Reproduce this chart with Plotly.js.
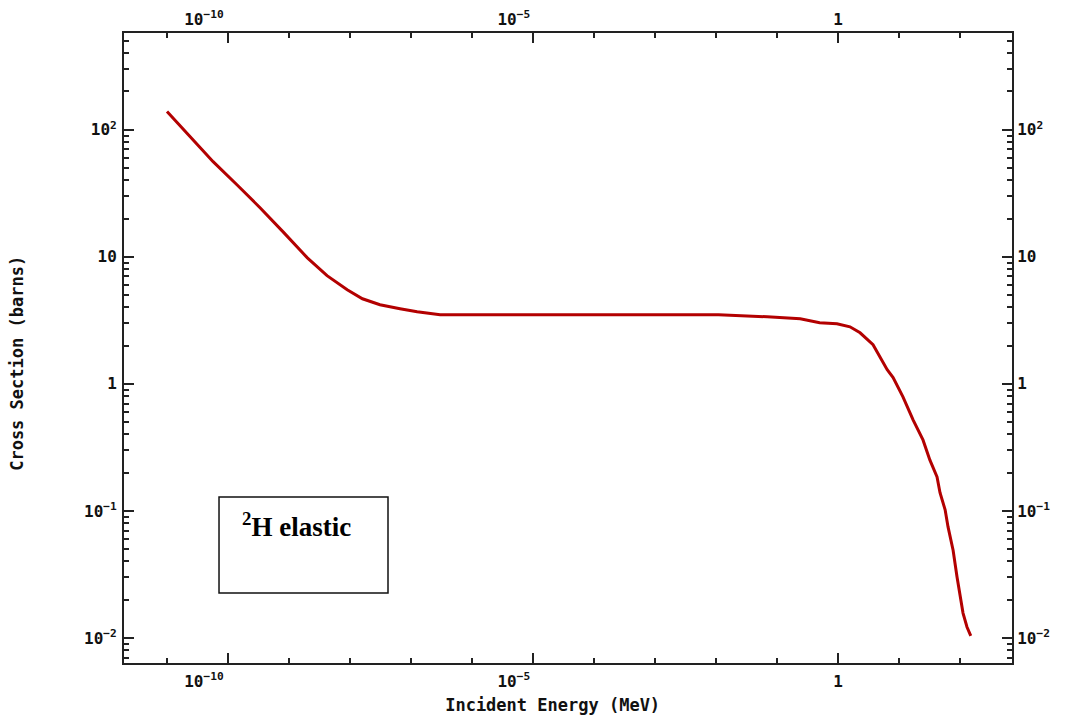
<!DOCTYPE html>
<html><head><meta charset="utf-8">
<script src="https://cdn.plot.ly/plotly-3.0.1.min.js"></script>
<style>html,body{margin:0;padding:0;background:#fff}#chart{width:1070px;height:721px}</style>
</head><body><div id="chart"></div>
<script>
// Incident energy (MeV) and elastic cross section (barns)
const energyMeV = [1e-11, 2.4e-11, 5.7e-11, 1.4e-10, 3.35e-10, 8e-10, 2e-9, 4.2e-9, 9e-9, 1.6e-8, 3.1e-8, 6.6e-8, 1.26e-7, 3e-7, 0.011, 0.069, 0.24, 0.5, 0.96, 1.57, 2.3, 3.75, 4.9, 6.4, 8.0, 11.6, 17, 24.7, 32, 42, 47, 57, 63.6, 77, 89.3, 112, 130, 150];
const crossSectionBarns = [139, 88, 56, 36.9, 24.3, 15.7, 9.8, 7.1, 5.5, 4.67, 4.19, 3.90, 3.69, 3.49, 3.49, 3.37, 3.25, 3.02, 2.97, 2.81, 2.52, 2.03, 1.63, 1.29, 1.12, 0.79, 0.52, 0.362, 0.252, 0.185, 0.139, 0.102, 0.0748, 0.049, 0.0302, 0.0157, 0.0122, 0.0104];

const xTickVals = [1e-10, 1e-5, 1];
const xTickText = ["10<sup>−10</sup>&nbsp;&nbsp;&nbsp;&nbsp;&nbsp;", "10<sup>−5</sup>&nbsp;&nbsp;&nbsp;&nbsp;", "1"];
const yTickVals = [0.01, 0.1, 1, 10, 100];
const yTickText = ["10<sup>−2</sup>", "10<sup>−1</sup>", "1", "10", "10<sup>2</sup>"];
const xTitle = "Incident Energy (MeV)&nbsp;&nbsp;&nbsp;";
const yTitle = "Cross Section (barns)&nbsp;&nbsp;&nbsp;";
const boxLabel = "<sup>2</sup>H elastic";

const axisColor = '#222';
const tickFont = {family: '"DejaVu Sans Mono", monospace', size: 16, color: '#111', weight: 'bold'};
const titleFont = {family: '"DejaVu Sans Mono", monospace', size: 17, color: '#111', weight: 'bold'};
const xRange = [-11.705, 2.852];
const yRange = [-2.197, 2.761];

function baseAxis(extra) {
  return Object.assign({
    type: 'log', showgrid: false, zeroline: false, showline: true,
    linecolor: axisColor, linewidth: 2, ticks: 'inside', ticklen: 10, tickwidth: 2,
    tickcolor: axisColor, tickfont: tickFont, tickmode: 'array'
  }, extra);
}

const traces = [
  {x: energyMeV, y: crossSectionBarns, type: 'scatter', mode: 'lines',
   line: {color: '#b30000', width: 3}, showlegend: false, hoverinfo: 'x+y'},
  {x: energyMeV, y: crossSectionBarns, type: 'scatter', mode: 'lines', xaxis: 'x2', yaxis: 'y2',
   line: {color: 'rgba(0,0,0,0)', width: 0}, showlegend: false, hoverinfo: 'skip'}
];

const xMinor = {ticks: 'inside', ticklen: 5, tickwidth: 2, tickcolor: axisColor, dtick: 1, showgrid: false};
const yMinor = {ticks: 'inside', ticklen: 5, tickwidth: 2, tickcolor: axisColor, dtick: 'D1', showgrid: false};

const layout = {
  width: 1070, height: 721,
  margin: {l: 124, r: 58, t: 33, b: 58},
  paper_bgcolor: '#fff', plot_bgcolor: '#fff',
  showlegend: false,
  xaxis: baseAxis({range: xRange, tickvals: xTickVals, ticktext: xTickText, minor: xMinor,
    ticklabelstandoff: 3,
    title: {text: xTitle, font: titleFont, standoff: 9}}),
  xaxis2: baseAxis({range: xRange, tickvals: xTickVals, ticktext: xTickText, minor: xMinor,
    ticklabelstandoff: 0, overlaying: 'x', side: 'top', anchor: 'y'}),
  yaxis: baseAxis({range: yRange, tickvals: yTickVals, ticktext: yTickText, minor: yMinor,
    ticklabelstandoff: 2,
    title: {text: yTitle, font: titleFont, standoff: 56}}),
  yaxis2: baseAxis({range: yRange, tickvals: yTickVals, ticktext: yTickText, minor: yMinor,
    overlaying: 'y', side: 'right', anchor: 'x'}),
  shapes: [{type: 'rect', xref: 'paper', yref: 'paper', x0: 0.107, x1: 0.2973, y0: 0.111, y1: 0.2635,
    line: {color: '#111', width: 1.5}, fillcolor: 'rgba(0,0,0,0)'}],
  annotations: [{xref: 'paper', yref: 'paper', x: 0.1306, y: 0.219, xanchor: 'left', yanchor: 'middle',
    text: boxLabel, showarrow: false,
    font: {family: '"Liberation Serif", "Times New Roman", serif', size: 27, color: '#000', weight: 'bold'}}]
};

Plotly.newPlot('chart', traces, layout, {displayModeBar: false, staticPlot: true});
</script>
</body></html>
